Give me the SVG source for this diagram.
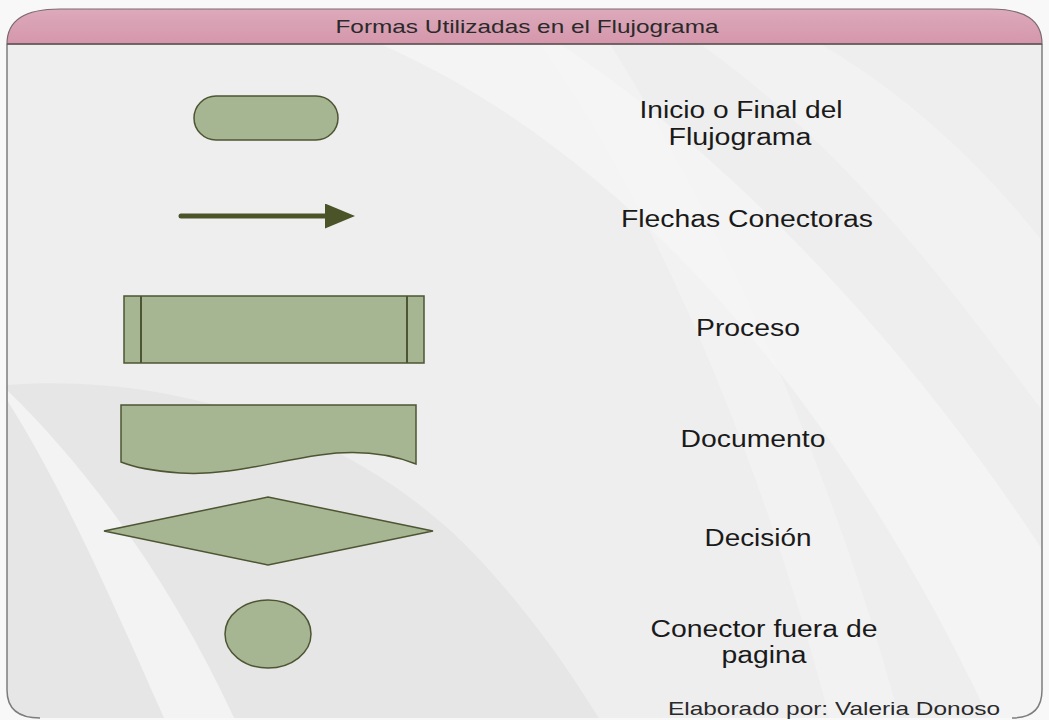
<svg xmlns="http://www.w3.org/2000/svg" width="1049" height="720" viewBox="0 0 1049 720">
<style>
.shape{fill:#a6b592;stroke:#4d5533;stroke-width:1.5}
.lbl{font-family:"Liberation Sans",Arial,sans-serif;font-size:23px;fill:#1a1a1a;text-anchor:middle}
.ttl{font-family:"Liberation Sans",Arial,sans-serif;font-size:19px;fill:#2a2a2a;text-anchor:middle}
</style>
<defs>
<linearGradient id="hdr" x1="0" y1="0" x2="0" y2="1">
<stop offset="0" stop-color="#dcaabb"/>
<stop offset="1" stop-color="#d596ab"/>
</linearGradient>
<marker id="ah" markerWidth="6" markerHeight="5" refX="1" refY="2.5" orient="auto" markerUnits="strokeWidth">
<path d="M0,0 L6,2.5 L0,5 Z" fill="#4a5428"/>
</marker>
<clipPath id="frameClip">
<path d="M7,44 L7,690 Q7,718 40,718 L1012,718 Q1042,718 1042,690 L1042,44 Z"/>
</clipPath>
</defs>
<rect width="1049" height="720" fill="#f8f8f8"/>
<g id="background" clip-path="url(#frameClip)">
<rect x="0" y="40" width="1049" height="680" fill="#eeeeee"/>
<path d="M380,44 C600,140 820,360 990,720 L1049,720 L1049,560 C900,330 720,150 560,44 Z" fill="#f4f4f4"/>
<path d="M700,44 C850,150 960,300 1049,420 L1049,250 C980,160 900,90 820,44 Z" fill="#f2f2f2"/>
<path d="M7,385 C170,372 360,430 480,560 C540,625 575,680 600,720 L7,720 Z" fill="#e6e6e6"/>
<path d="M7,400 C70,500 120,620 165,720 L235,720 C180,600 100,480 7,390 Z" fill="#f3f3f3"/>
<path d="M540,44 C650,200 760,450 830,720 L900,720 C830,460 720,220 610,44 Z" fill="#f5f5f5" opacity="0.6"/>
</g>
<path id="frame" d="M7,44 L7,690 Q7,718 40,718 M1012,718 Q1042,718 1042,690 L1042,44" fill="none" stroke="#7d7d7d" stroke-width="1.5"/>
<g id="header">
<path d="M7,44 C7,20 25,9 60,9 L990,9 C1025,9 1042,20 1042,44 Z" fill="url(#hdr)" stroke="#7a6a6e" stroke-width="1.2"/>
<line x1="7" y1="44" x2="1042" y2="44" stroke="#5e5456" stroke-width="1.5"/>
<text class="ttl" x="527" y="33" textLength="383" lengthAdjust="spacingAndGlyphs">Formas Utilizadas en el Flujograma</text>
</g>
<g id="node-terminal">
<rect class="shape" x="194" y="96" width="144" height="44" rx="22" ry="22"/>
</g>
<g id="connectors">
<line x1="181" y1="216" x2="330" y2="216" stroke="#4a5428" stroke-width="5" stroke-linecap="round" marker-end="url(#ah)"/>
</g>
<g id="node-process">
<rect class="shape" x="124" y="296" width="300" height="67" stroke-width="2"/>
<line x1="141" y1="296" x2="141" y2="363" stroke="#4d5533" stroke-width="2"/>
<line x1="407" y1="296" x2="407" y2="363" stroke="#4d5533" stroke-width="2"/>
</g>
<g id="node-document">
<path class="shape" d="M121,405 L416,405 L416,464 C385,452 355,450 320,455 C270,462 230,476 180,473 C155,471 135,468 121,462 Z"/>
</g>
<g id="node-decision">
<path class="shape" d="M104,531 L268,497 L433,531 L268,565 Z"/>
</g>
<g id="node-connector">
<ellipse class="shape" cx="268" cy="634" rx="43" ry="34"/>
</g>
<g id="labels">
<text class="lbl" x="741" y="118" textLength="203" lengthAdjust="spacingAndGlyphs">Inicio o Final del</text>
<text class="lbl" x="740" y="145" textLength="143" lengthAdjust="spacingAndGlyphs">Flujograma</text>
<text class="lbl" x="747" y="227" textLength="252" lengthAdjust="spacingAndGlyphs">Flechas Conectoras</text>
<text class="lbl" x="748" y="336" textLength="104" lengthAdjust="spacingAndGlyphs">Proceso</text>
<text class="lbl" x="753" y="447" textLength="145" lengthAdjust="spacingAndGlyphs">Documento</text>
<text class="lbl" x="758" y="546" textLength="107" lengthAdjust="spacingAndGlyphs">Decisión</text>
<text class="lbl" x="764" y="637" textLength="227" lengthAdjust="spacingAndGlyphs">Conector fuera de</text>
<text class="lbl" x="764" y="663" textLength="85" lengthAdjust="spacingAndGlyphs">pagina</text>
<text class="lbl" x="834" y="715" style="font-size:19px;fill:#2a2a2a" textLength="332" lengthAdjust="spacingAndGlyphs">Elaborado por: Valeria Donoso</text>
</g>
</svg>
